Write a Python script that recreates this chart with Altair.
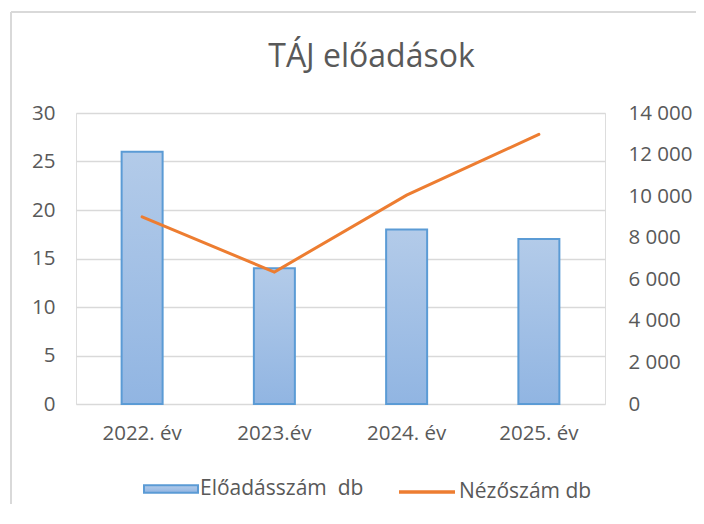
import altair as alt
import pandas as pd

years = ["2022. év", "2023.év", "2024. év", "2025. év"]
performances = [26, 14, 18, 17]
viewers = [9000, 6350, 10050, 12970]

bar_name = "Előadásszám\u00a0\u00a0db"
line_name = "Nézőszám db"

df = pd.DataFrame({
    "year": years,
    "perf": performances,
    "view": viewers,
    "bar_s": [bar_name] * 4,
    "line_s": [line_name] * 4,
})

FONT = "Open Sans"
GREY = "#595959"

x = alt.X("year:N", sort=years, title=None,
          scale=alt.Scale(paddingInner=0, paddingOuter=0),
          axis=alt.Axis(labelAngle=0, labelFontSize=20.5, labelColor=GREY, labelFont=FONT,
                        domain=False, ticks=False, labelPadding=19, grid=False))

bars = alt.Chart(df).mark_bar(
    size=41,
    strokeWidth=2,
    fill=alt.Gradient(gradient="linear", x1=0, x2=0, y1=0, y2=1,
                      stops=[alt.GradientStop(color="#B3CBE9", offset=0),
                             alt.GradientStop(color="#91B5E2", offset=1)]),
).encode(
    x=x,
    y=alt.Y("perf:Q", title=None,
            scale=alt.Scale(domain=[0, 30], nice=False),
            axis=alt.Axis(values=[0, 5, 10, 15, 20, 25, 30], labelFontSize=20.5, labelColor=GREY,
                          labelFont=FONT, domain=False, ticks=False, labelPadding=21,
                          gridColor="#D9D9D9", gridWidth=1.5, orient="left")),
    stroke=alt.Stroke("bar_s:N", title=None,
                      scale=alt.Scale(range=["#5B9BD5"]),
                      legend=alt.Legend(orient="none", legendX=67, legendY=348,
                                        symbolType="M-1,-0.14H1V0.14H-1Z", symbolSize=2916,
                                        symbolFillColor="#A4C2E8", symbolStrokeWidth=2,
                                        labelFontSize=21, labelColor=GREY, labelFont=FONT,
                                        labelOffset=1, labelLimit=400)),
)

line = alt.Chart(df).mark_line(strokeWidth=3, strokeCap="round").encode(
    x=x,
    y=alt.Y("view:Q", title=None,
            scale=alt.Scale(domain=[0, 14000], nice=False),
            axis=alt.Axis(values=[0, 2000, 4000, 6000, 8000, 10000, 12000, 14000],
                          labelExpr="datum.value >= 1000 ? floor(datum.value/1000) + ' 000' : '' + datum.value",
                          labelFontSize=20.5, labelColor=GREY, labelFont=FONT,
                          domain=False, ticks=False, labelPadding=23, grid=False, orient="right")),
    color=alt.Color("line_s:N", title=None,
                    scale=alt.Scale(range=["#ED7D31"]),
                    legend=alt.Legend(orient="none", legendX=321, legendY=349,
                                      symbolType="stroke", symbolSize=3136, symbolStrokeWidth=3.5,
                                      labelFontSize=21, labelColor=GREY, labelFont=FONT,
                                      labelOffset=2, labelLimit=400)),
)

border_left = alt.Chart(df).mark_rule(stroke="#D9D9D9", strokeWidth=2, clip=False).encode(
    x=alt.value(-65), y=alt.value(-101), y2=alt.value(420)
)
border_top = alt.Chart(df).mark_rule(stroke="#D9D9D9", strokeWidth=2, clip=False).encode(
    y=alt.value(-101), x=alt.value(-65), x2=alt.value(640)
)

chart = alt.layer(border_left, border_top, bars, line).resolve_scale(
    y="independent", stroke="independent", color="independent"
).properties(
    width=529, height=291,
    title=alt.TitleParams("TÁJ előadások", fontSize=32, color=GREY, font=FONT,
                          fontWeight="normal", anchor="middle", dx=31, offset=-88,
                          baseline="alphabetic"),
    autosize=alt.AutoSizeParams(type="none"),
    padding={"left": 68, "top": 105, "right": 91, "bottom": 100},
).configure_view(stroke=None).configure(background="white")

chart.save("out.html", embed_options={"renderer": "svg", "actions": False})
